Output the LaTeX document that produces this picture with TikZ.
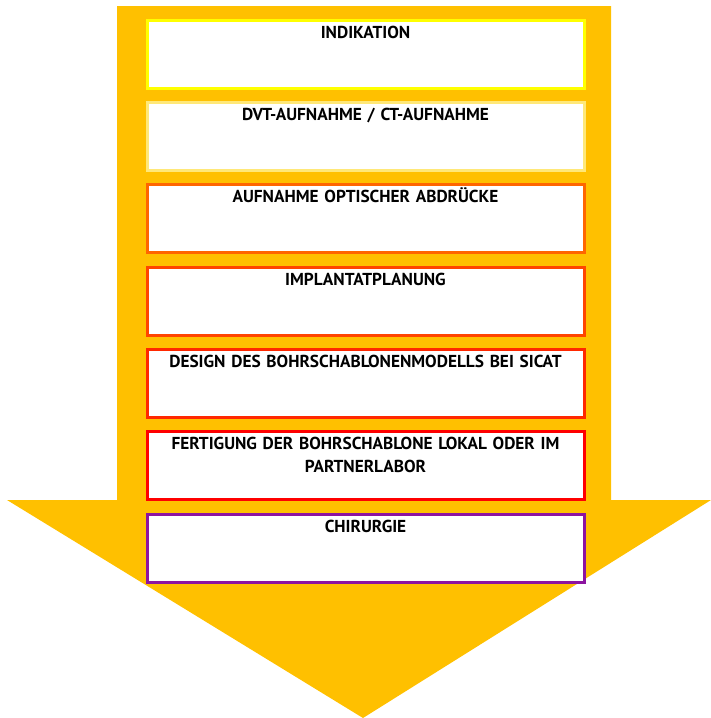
\documentclass[tikz,border=0pt]{standalone}
\usepackage{fontspec}
\setmainfont{PT Sans}
\definecolor{arrowcol}{RGB}{255,192,0}
\definecolor{c1}{RGB}{255,255,0}
\definecolor{c2}{RGB}{255,232,120}
\definecolor{c3}{RGB}{255,102,0}
\definecolor{c4}{RGB}{255,69,0}
\definecolor{c5}{RGB}{255,40,0}
\definecolor{c6}{RGB}{255,0,0}
\definecolor{c7}{RGB}{140,20,160}
\begin{document}
\begin{tikzpicture}[x=1pt,y=-1pt,
  stepbox/.style={draw=#1, line width=3pt, fill=white, minimum width=437pt, minimum height=68pt, anchor=north west, inner sep=0pt},
  steptext/.style={anchor=base, text width=430pt, align=center, font=\fontsize{17.3}{22.5}\selectfont\bfseries, inner sep=0pt}]
\useasboundingbox (0,0) rectangle (711,718);
\fill[arrowcol] (117,6) -- (611,6) -- (611,500) -- (711,500) -- (363,718) -- (7,500) -- (117,500) -- cycle;
\foreach \i/\y/\c/\t in {1/17/c1/INDIKATION, 2/99/c2/{DVT-AUFNAHME / CT-AUFNAHME}, 3/181/c3/AUFNAHME OPTISCHER ABDRÜCKE, 4/264/c4/IMPLANTATPLANUNG, 5/346/c5/DESIGN DES BOHRSCHABLONENMODELLS BEI SICAT, 6/428/c6/{FERTIGUNG DER BOHRSCHABLONE LOKAL ODER IM\\PARTNERLABOR}, 7/511/c7/CHIRURGIE} {
  \node[stepbox=\c] (b\i) at (145.5,\y+1.5) {};
  \node[steptext] (t\i) at ([yshift=-20pt]b\i.north) {\t};
}
\end{tikzpicture}
\end{document}
